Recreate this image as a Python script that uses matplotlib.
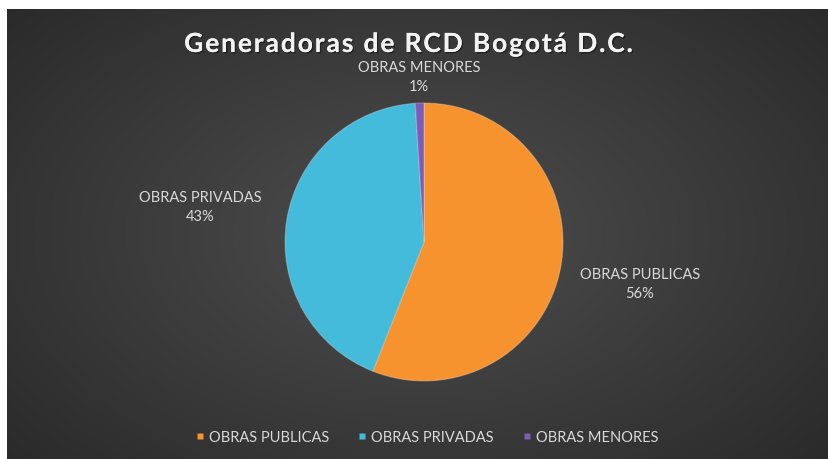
import numpy as np
import matplotlib
matplotlib.use("Agg")
import matplotlib.pyplot as plt
from matplotlib.lines import Line2D
import matplotlib.patheffects as pe

categories = ["OBRAS PUBLICAS", "OBRAS PRIVADAS", "OBRAS MENORES"]
values = [56, 43, 1]
pct_labels = ["56%", "43%", "1%"]
title = "Generadoras de RCD Bogotá D.C."

colors = ["#F7932F", "#45BBDC", "#7E5BB8"]
label_dist = [1.58, 1.63, 1.19]
text_color = "#D9D9D9"
font = ["Lato", "DejaVu Sans"]

W, H = 829, 460
fig = plt.figure(figsize=(W / 100, H / 100), dpi=100, facecolor="white")

# background with radial gradient
bx0, by1 = 7, 10
bg = fig.add_axes([bx0 / W, 0, 1 - bx0 / W, 1 - by1 / H])
bg.set_axis_off()
yy, xx = np.mgrid[0:1:300j, 0:1:500j]
d = np.sqrt(((xx - 0.5) / 0.75) ** 2 + ((yy - 0.5) / 0.85) ** 2)
d = np.clip(d, 0, 1)
c_in = np.array([0x4e, 0x4e, 0x4e]) / 255
c_out = np.array([0x26, 0x26, 0x26]) / 255
img = c_in[None, None, :] * (1 - d[..., None]) + c_out[None, None, :] * d[..., None]
bg.imshow(img, aspect="auto", extent=[0, 1, 0, 1], interpolation="bilinear")
bg.set_xlim(0, 1)
bg.set_ylim(0, 1)

# pie axes
cx, cy, R = 424, 243, 139
ax = fig.add_axes([(cx - R) / W, (H - cy - R) / H, 2 * R / W, 2 * R / H])
ax.set_axis_off()
wedges, _ = ax.pie(values, colors=colors, startangle=90, counterclock=False,
                   radius=1.0, wedgeprops=dict(edgecolor=(1, 1, 1, 0.25), linewidth=0.8))
ax.set_xlim(-1, 1)
ax.set_ylim(-1, 1)
ax.set_aspect("equal")

for w, cat, pct, dist in zip(wedges, categories, pct_labels, label_dist):
    ang = np.deg2rad((w.theta1 + w.theta2) / 2)
    x, y = dist * np.cos(ang), dist * np.sin(ang)
    ax.text(x, y, f"{cat}\n{pct}", ha="center", va="center", color=text_color,
            fontsize=10.5, family=font, linespacing=1.45, clip_on=False,
            multialignment="center")

# title with letter spacing
renderer = fig.canvas.get_renderer()
tprops = dict(color="#F2F2F2", fontsize=19, fontweight="bold", family=font)
spacing = 1.9  # px between characters
widths = []
for ch in title:
    if ch == " ":
        t = fig.text(0, 0, "a a", **tprops)
        w_full = t.get_window_extent(renderer).width
        t.remove()
        t = fig.text(0, 0, "aa", **tprops)
        w_aa = t.get_window_extent(renderer).width
        t.remove()
        widths.append(w_full - w_aa)
    else:
        t = fig.text(0, 0, ch, **tprops)
        widths.append(t.get_window_extent(renderer).width)
        t.remove()
total = sum(widths) + spacing * (len(title) - 1)
x0 = 408.5 - total / 2
ty = 1 - 45 / H
xpos = x0
for ch, wch in zip(title, widths):
    if ch != " ":
        fig.text(xpos / W, ty, ch, ha="left", va="center", **tprops,
                 path_effects=[pe.withSimplePatchShadow(offset=(1, -1), shadow_rgbFace="black", alpha=0.4),
                               pe.Normal()])
    xpos += wch + spacing

# legend
handles = [Line2D([0], [0], marker="s", color="none", markerfacecolor=c,
                  markeredgecolor="none", markersize=5) for c in colors]
leg = fig.legend(handles, categories, loc="center", bbox_to_anchor=(0.515, 1 - 438 / H),
                 ncol=3, frameon=False, handlelength=0.6, handletextpad=0.3,
                 columnspacing=2.0, prop=dict(family=font, size=10.5))
for t in leg.get_texts():
    t.set_color(text_color)

fig.savefig("out.png", dpi=100, facecolor="white")
